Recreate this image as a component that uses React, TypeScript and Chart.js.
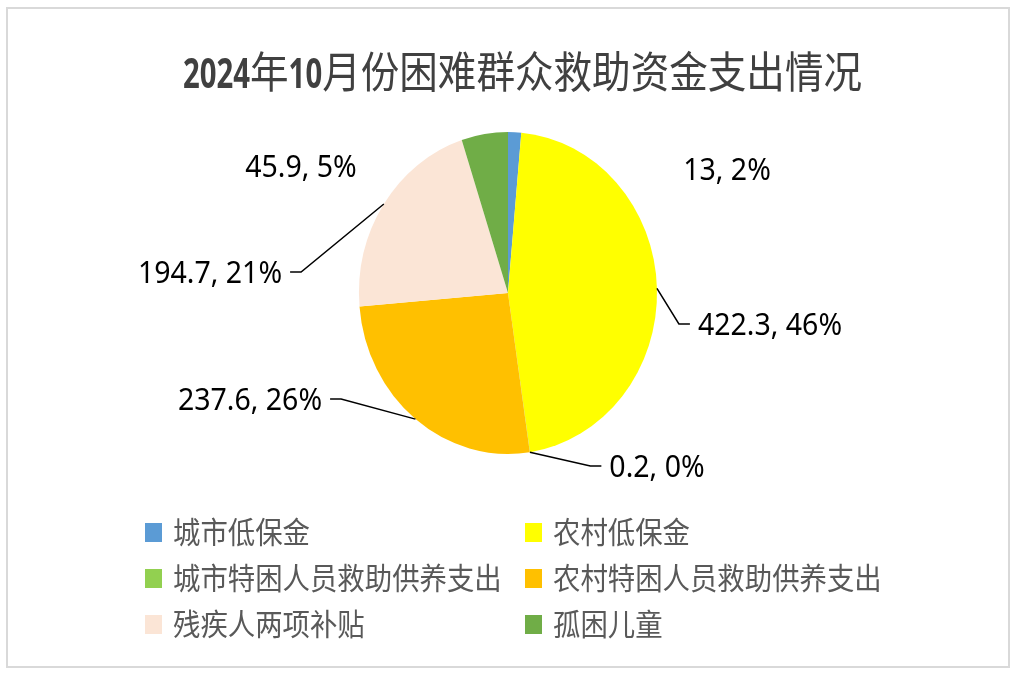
import React, { useEffect, useRef } from 'react';
import { Chart, registerables } from 'chart.js';

Chart.register(...registerables);

// ---- data ----
const categories = [
  '城市低保金',
  '农村低保金',
  '城市特困人员救助供养支出',
  '农村特困人员救助供养支出',
  '残疾人两项补贴',
  '孤困儿童',
];
const amounts = [13, 422.3, 0.2, 237.6, 194.7, 45.9];
const percentLabels = ['2%', '46%', '0%', '26%', '21%', '5%'];
const sliceColors = ['#5B9BD5', '#FFFF00', '#92D050', '#FFC000', '#FBE5D6', '#70AD47'];
const titleParts = [
  { text: '2024', digits: true },
  { text: '年', digits: false },
  { text: '10', digits: true },
  { text: '月份困难群众救助资金支出情况', digits: false },
];

// ---- layout (positions only) ----
const W = 1017;
const H = 676;
const K = 1.08; // vertical stretch of the picture
const labelSpots: [number, number][] = [
  [727, 180],
  [770, 335],
  [657, 477],
  [250, 410],
  [210, 283],
  [301, 177],
];
const showLeader = [false, true, true, true, true, false];
const legendCols = [145, 525];
const legendRows = [543, 589, 635];
const TITLE_LEFT = 183;
const TITLE_RIGHT = 862;

function drawText(
  ctx: CanvasRenderingContext2D,
  text: string,
  x: number,
  y: number,
  font: string,
  color: string,
  align: CanvasTextAlign,
  sx = 1,
  sy = K
) {
  ctx.save();
  ctx.translate(x, y);
  ctx.scale(sx, sy);
  ctx.font = font;
  ctx.fillStyle = color;
  ctx.textAlign = align;
  ctx.textBaseline = 'alphabetic';
  ctx.fillText(text, 0, 0);
  ctx.restore();
}

function textWidth(ctx: CanvasRenderingContext2D, text: string, font: string, sx = 1) {
  ctx.save();
  ctx.font = font;
  const w = ctx.measureText(text).width * sx;
  ctx.restore();
  return w;
}

const LABEL_FONT = '28.5px "Noto Sans", "DejaVu Sans", sans-serif';
const LEGEND_FONT = '27.4px "Noto Sans CJK SC", sans-serif';
const TITLE_CJK_FONT = '40px "Noto Sans CJK SC", sans-serif';
const TITLE_DIGIT_FONT = 'bold 38px "Noto Sans", sans-serif';
const TITLE_DIGIT_SX = 0.8;

const framePlugin = {
  id: 'frame',
  beforeDraw(chart: any) {
    const ctx = chart.ctx as CanvasRenderingContext2D;
    ctx.save();
    ctx.fillStyle = '#FFFFFF';
    ctx.fillRect(0, 0, chart.width, chart.height);
    ctx.strokeStyle = '#D9D9D9';
    ctx.lineWidth = 2;
    ctx.strokeRect(7, 8, 1002, 659);
    ctx.restore();
  },
};

const stretchPlugin = {
  id: 'stretch',
  beforeDatasetsDraw(chart: any) {
    const ctx = chart.ctx as CanvasRenderingContext2D;
    const cy = (chart.chartArea.top + chart.chartArea.bottom) / 2;
    ctx.save();
    ctx.translate(0, cy);
    ctx.scale(1, K);
    ctx.translate(0, -cy);
  },
  afterDatasetsDraw(chart: any) {
    chart.ctx.restore();
  },
};

const decorPlugin = {
  id: 'decor',
  afterDraw(chart: any) {
    const ctx = chart.ctx as CanvasRenderingContext2D;

    // title, fitted to the reference span
    const widths = titleParts.map((p) =>
      p.digits
        ? textWidth(ctx, p.text, TITLE_DIGIT_FONT, TITLE_DIGIT_SX)
        : textWidth(ctx, p.text, TITLE_CJK_FONT)
    );
    const total = widths.reduce((a, b) => a + b, 0);
    const fit = (TITLE_RIGHT - TITLE_LEFT) / total;
    let tx = TITLE_LEFT;
    titleParts.forEach((p, i) => {
      drawText(
        ctx,
        p.text,
        tx,
        88,
        p.digits ? TITLE_DIGIT_FONT : TITLE_CJK_FONT,
        '#404040',
        'left',
        (p.digits ? TITLE_DIGIT_SX : 1) * fit
      );
      tx += widths[i] * fit;
    });

    // data labels with leader lines
    const meta = chart.getDatasetMeta(0);
    meta.data.forEach((arc: any, i: number) => {
      const { x, y, startAngle, endAngle, outerRadius } = arc.getProps(
        ['x', 'y', 'startAngle', 'endAngle', 'outerRadius'],
        true
      );
      const mid = (startAngle + endAngle) / 2;
      const ax = x + Math.cos(mid) * outerRadius;
      const ay = y + Math.sin(mid) * outerRadius * K;
      const label = `${amounts[i]}, ${percentLabels[i]}`;
      const [lx, ly] = labelSpots[i];
      const w = textWidth(ctx, label, LABEL_FONT);
      if (showLeader[i]) {
        const right = lx > ax;
        const edge = right ? lx - w / 2 : lx + w / 2;
        const dir = right ? -1 : 1;
        const endX = edge + dir * 8;
        const elbowX = edge + dir * 19;
        const yy = ly - 11;
        ctx.save();
        ctx.strokeStyle = '#000000';
        ctx.lineWidth = 1.5;
        ctx.beginPath();
        ctx.moveTo(ax, ay);
        ctx.lineTo(elbowX, yy);
        ctx.lineTo(endX, yy);
        ctx.stroke();
        ctx.restore();
      }
      drawText(ctx, label, lx, ly, LABEL_FONT, '#000000', 'center');
    });

    // legend
    categories.forEach((name, i) => {
      const col = i % 2;
      const row = Math.floor(i / 2);
      const bx = legendCols[col];
      const by = legendRows[row];
      ctx.save();
      ctx.fillStyle = sliceColors[i];
      ctx.fillRect(bx, by - 20, 17, 19);
      ctx.restore();
      drawText(ctx, name, bx + 28, by, LEGEND_FONT, '#595959', 'left');
    });
  },
};

export default function App() {
  const canvasRef = useRef<HTMLCanvasElement | null>(null);

  useEffect(() => {
    const canvas = canvasRef.current;
    if (!canvas) return;
    const chart = new Chart(canvas, {
      type: 'pie',
      data: {
        labels: categories,
        datasets: [
          {
            data: amounts,
            backgroundColor: sliceColors,
            borderWidth: 0,
            hoverOffset: 0,
            radius: 149,
            clip: false,
          } as any,
        ],
      },
      options: {
        responsive: false,
        animation: false,
        devicePixelRatio: 1,
        events: [],
        layout: { padding: { left: 359, right: 360, top: 144, bottom: 234 } },
        plugins: {
          legend: { display: false },
          title: { display: false },
          tooltip: { enabled: false },
        },
      } as any,
      plugins: [framePlugin, stretchPlugin, decorPlugin],
    });
    return () => chart.destroy();
  }, []);

  return (
    <div style={{ position: 'absolute', left: 0, top: 0, width: W, height: H, background: '#fff' }}>
      <canvas ref={canvasRef} width={W} height={H} style={{ display: 'block', width: W, height: H }} />
    </div>
  );
}
